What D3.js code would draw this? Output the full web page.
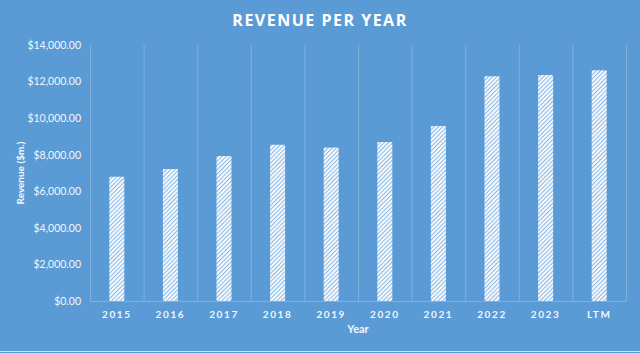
<!DOCTYPE html>
<html>
<head>
    <meta charset="utf-8">
    <title>Revenue per year</title>
    <style>
        body {
            margin: 0;
            background: #5b9bd5;
        }
        text {
            fill: #f2f6fb;
            font-family: Lato, "Open Sans", sans-serif;
        }
        .title {
            font-family: "Open Sans", sans-serif;
            font-weight: 700;
            font-size: 16px;
            letter-spacing: 1.5px;
            fill: #fff;
        }
        .y-axis text {
            font-size: 10.5px;
        }
        .x-axis text {
            font-size: 10px;
            font-weight: 700;
            letter-spacing: 1.6px;
        }
        .axis-title {
            font-size: 10px;
            font-weight: 700;
        }
        .x-title {
            font-size: 11px;
        }
        .grid line {
            stroke: #fff;
            stroke-opacity: 0.22;
        }
    </style>
</head>
<body>
<script src="https://cdn.jsdelivr.net/npm/d3@7"></script>
<script>
    var width = 640;
    var height = 353;
    var margin = {top: 45, right: 14, bottom: 52, left: 90};

    var years = ["2015", "2016", "2017", "2018", "2019", "2020", "2021", "2022", "2023", "LTM"];
    var revenue = [6800, 7220, 7930, 8550, 8400, 8700, 9570, 12290, 12360, 12620];
    var yTicks = [0, 2000, 4000, 6000, 8000, 10000, 12000, 14000];

    var svg = d3.select("body").append("svg")
            .attr("width", width)
            .attr("height", height);

    // diagonal hatch like the office "wide upward diagonal" fill
    var pat = svg.append("defs").append("pattern")
            .attr("id", "hatch")
            .attr("patternUnits", "userSpaceOnUse")
            .attr("width", 3)
            .attr("height", 3)
            .attr("patternTransform", "rotate(45)");
    pat.append("rect").attr("width", 3).attr("height", 3).attr("fill", "#ffffff");
    pat.append("rect").attr("width", 1.2).attr("height", 3).attr("fill", "#8fbbe6");

    var x = d3.scaleBand()
            .domain(years)
            .range([margin.left, width - margin.right])
            .paddingInner(0)
            .paddingOuter(0);

    var y = d3.scaleLinear()
            .domain([0, 14000])
            .range([height - margin.bottom, margin.top]);

    // vertical grid lines at category boundaries
    var bounds = years.map(function(d) {return x(d);}).concat([x.range()[1]]);
    svg.append("g").attr("class", "grid")
            .selectAll("line").data(bounds).enter().append("line")
            .attr("x1", function(d) {return d + 0.5;})
            .attr("x2", function(d) {return d + 0.5;})
            .attr("y1", margin.top)
            .attr("y2", height - margin.bottom);

    svg.append("g").attr("class", "grid")
            .append("line")
            .attr("x1", margin.left)
            .attr("x2", width - margin.right)
            .attr("y1", height - margin.bottom + 0.5)
            .attr("y2", height - margin.bottom + 0.5);

    var barW = x.bandwidth() * 0.28;
    svg.append("g").selectAll("rect").data(revenue).enter().append("rect")
            .attr("x", function(d, i) {return x(years[i]) + x.bandwidth() / 2 - barW / 2;})
            .attr("y", function(d) {return y(d);})
            .attr("width", barW)
            .attr("height", function(d) {return y(0) - y(d);})
            .attr("rx", 1)
            .attr("fill", "url(#hatch)");

    var yAxis = svg.append("g").attr("class", "y-axis")
            .attr("transform", "translate(" + (margin.left - 6) + ",0)")
            .call(d3.axisLeft(y).tickValues(yTicks).tickSize(0)
                    .tickFormat(function(d) {return "$" + d3.format(",.2f")(d);}));
    yAxis.select(".domain").remove();

    var xAxis = svg.append("g").attr("class", "x-axis")
            .attr("transform", "translate(0," + (height - margin.bottom + 7) + ")")
            .call(d3.axisBottom(x).tickSize(0));
    xAxis.select(".domain").remove();

    svg.append("text").attr("class", "title")
            .attr("x", width / 2)
            .attr("y", 26)
            .attr("text-anchor", "middle")
            .text("REVENUE PER YEAR");

    svg.append("text").attr("class", "axis-title x-title")
            .attr("x", (margin.left + width - margin.right) / 2)
            .attr("y", 333)
            .attr("text-anchor", "middle")
            .text("Year");

    svg.append("text").attr("class", "axis-title")
            .attr("transform", "translate(24," + (margin.top + height - margin.bottom) / 2 + ")rotate(-90)")
            .attr("text-anchor", "middle")
            .text("Revenue ($m.)");

    svg.append("line")
            .attr("x1", 0).attr("x2", width)
            .attr("y1", height - 1.5).attr("y2", height - 1.5)
            .attr("stroke", "#cfe0f2")
            .attr("stroke-width", 1);
</script>
</body>
</html>
